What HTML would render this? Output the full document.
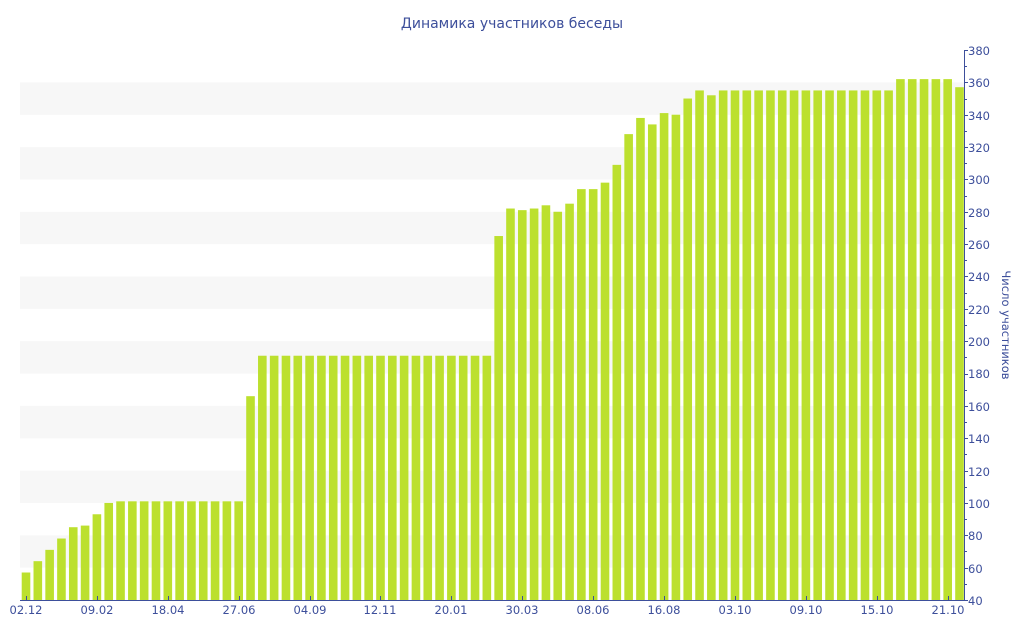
<!DOCTYPE html>
<html><head><meta charset="utf-8"><style>
html,body{margin:0;padding:0;background:#fff;}
svg{display:block;font-family:"DejaVu Sans",Verdana,sans-serif;}
.t{fill:#3d4f9b;font-size:11.5px;}
</style></head><body>
<svg id="s" width="1024" height="640" viewBox="0 0 1024 640">
<text x="512" y="28" text-anchor="middle" fill="#3d4f9b" font-size="14">Динамика участников беседы</text>
<g fill="#f7f7f7">
<rect x="20" y="82.4" width="944" height="32.4"/>
<rect x="20" y="147.1" width="944" height="32.4"/>
<rect x="20" y="211.8" width="944" height="32.4"/>
<rect x="20" y="276.5" width="944" height="32.4"/>
<rect x="20" y="341.2" width="944" height="32.4"/>
<rect x="20" y="405.9" width="944" height="32.4"/>
<rect x="20" y="470.6" width="944" height="32.4"/>
<rect x="20" y="535.3" width="944" height="32.4"/>
</g>
<g id="bars" fill="#bce02e"></g>
<g stroke="#3d4f9b" stroke-width="1" fill="none">
<line x1="20" y1="600.5" x2="964" y2="600.5"/>
<line x1="964.5" y1="50" x2="964.5" y2="600"/>
</g>
<g id="ticks" stroke="#3d4f9b" stroke-width="1"></g>
<g class="t" text-anchor="start">
<text x="968" y="55">380</text><text x="968" y="87">360</text><text x="968" y="120">340</text>
<text x="968" y="152">320</text><text x="968" y="184">300</text><text x="968" y="217">280</text>
<text x="968" y="249">260</text><text x="968" y="281">240</text><text x="968" y="314">220</text>
<text x="968" y="346">200</text><text x="968" y="378">180</text><text x="968" y="411">160</text>
<text x="968" y="443">140</text><text x="968" y="476">120</text><text x="968" y="508">100</text>
<text x="968" y="540">80</text><text x="968" y="573">60</text><text x="968" y="605">40</text>
</g>
<g class="t" text-anchor="middle">
<text x="26" y="614">02.12</text><text x="97" y="614">09.02</text><text x="168" y="614">18.04</text>
<text x="239" y="614">27.06</text><text x="310" y="614">04.09</text><text x="380" y="614">12.11</text>
<text x="451" y="614">20.01</text><text x="522" y="614">30.03</text><text x="593" y="614">08.06</text>
<text x="664" y="614">16.08</text><text x="735" y="614">03.10</text><text x="806" y="614">09.10</text>
<text x="877" y="614">15.10</text><text x="948" y="614">21.10</text>
</g>
<text class="t" transform="translate(1002,325) rotate(90)" text-anchor="middle">Число участников</text>
</svg>
<script>
var v=[57,64,71,78,85,86,93,100];
for(var i=0;i<11;i++)v.push(101);
v.push(166);for(i=0;i<20;i++)v.push(191);
v.push(265);
v=v.concat([282,281,282,284,280,285,294,294,298,309,328,338,334,341,340,350,355,352]);
for(i=0;i<15;i++)v.push(355);
for(i=0;i<5;i++)v.push(362);v.push(357);
var ns="http://www.w3.org/2000/svg",g=document.getElementById("bars");
function Y(a){return 600-(a-40)*550/340;}
for(i=0;i<v.length;i++){var c=26+i*933.5/79,r=document.createElementNS(ns,"rect");
r.setAttribute("x",c-4.3);r.setAttribute("width",8.6);r.setAttribute("y",Y(v[i]));r.setAttribute("height",600-Y(v[i]));g.appendChild(r);}
var t=document.getElementById("ticks");
for(var a=40;a<=380;a+=10){var l=document.createElementNS(ns,"line"),y=Math.round(Y(a))+0.5;
l.setAttribute("x1",964);l.setAttribute("x2",a%20==0?968:967);l.setAttribute("y1",y);l.setAttribute("y2",y);t.appendChild(l);}
for(i=0;i<80;i+=6){var x=Math.round(26+i*933.5/79)+0.5,l=document.createElementNS(ns,"line");
l.setAttribute("x1",x);l.setAttribute("x2",x);l.setAttribute("y1",600);l.setAttribute("y2",596);t.appendChild(l);}
</script>
</body></html>
